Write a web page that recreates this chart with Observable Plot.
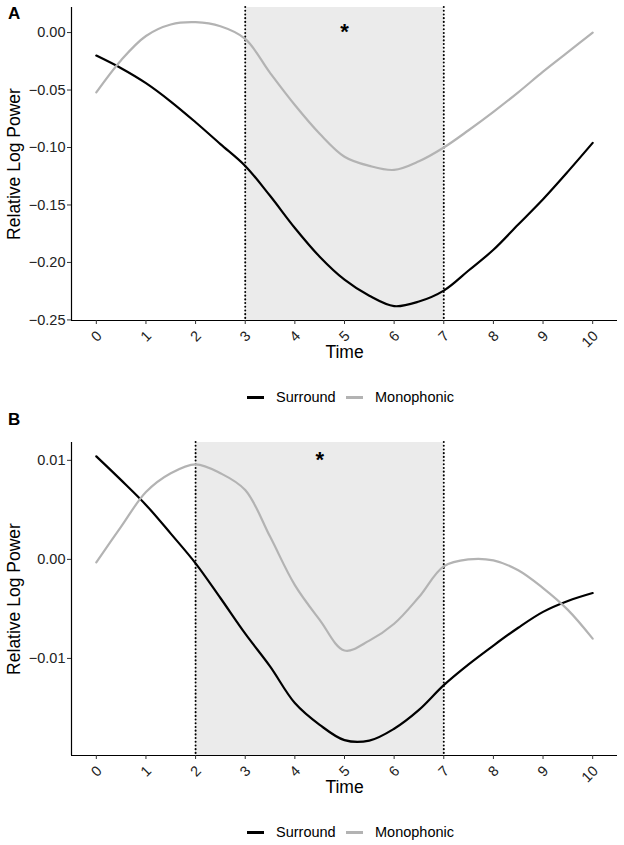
<!DOCTYPE html>
<html>
<head>
<meta charset="utf-8">
<script src="https://cdn.jsdelivr.net/npm/d3@7"></script>
<script src="https://cdn.jsdelivr.net/npm/@observablehq/plot@0.6"></script>
<style>
  body { margin: 0; background: white; }
  #root { position: relative; width: 624px; height: 845px; background: white; font-family: "Liberation Sans", Arial, sans-serif; }
  .panel { position: absolute; left: 0; }
  .plabel { position: absolute; left: 8px; font-weight: bold; font-size: 17px; color: black; line-height: 1; }
  .legend { position: absolute; left: 0; width: 624px; height: 20px; font-size: 14.5px; color: black; }
  .legend .key { position: absolute; top: 9px; height: 3px; }
  .legend .txt { position: absolute; top: 2px; line-height: 16px; white-space: nowrap; }
</style>
</head>
<body>
<div id="root"></div>
<script>
// ---- data ----
const times = [0, 0.5, 1, 1.5, 2, 2.5, 3, 3.5, 4, 4.5, 5, 5.5, 6, 6.5, 7, 7.5, 8, 8.5, 9, 9.5, 10];
const seriesNames = ["Surround", "Monophonic"];
const seriesColors = ["#000000", "#b3b3b3"];

// Panel A
const surroundA = [-0.020, -0.031, -0.044, -0.060, -0.078, -0.097, -0.116, -0.142, -0.170, -0.195, -0.215, -0.229, -0.238, -0.234, -0.2245, -0.207, -0.189, -0.167, -0.145, -0.121, -0.096];
const monoA = [-0.052, -0.024, -0.003, 0.007, 0.009, 0.0055, -0.0055, -0.035, -0.063, -0.088, -0.108, -0.116, -0.1195, -0.112, -0.100, -0.085, -0.069, -0.052, -0.034, -0.017, 0.000];
const windowA = [3, 7];
const yTicksA = [0.00, -0.05, -0.10, -0.15, -0.20, -0.25];
const yDomainA = [-0.2505, 0.0218];

// Panel B
const surroundB = [0.0104, 0.0080, 0.0055, 0.0026, -0.0004, -0.0039, -0.0075, -0.0108, -0.0145, -0.0167, -0.01825, -0.0183, -0.0171, -0.0152, -0.0127, -0.0106, -0.0087, -0.0069, -0.0053, -0.0042, -0.0034];
const monoB = [-0.0003, 0.0033, 0.0068, 0.0087, 0.0096, 0.0087, 0.0070, 0.0023, -0.0026, -0.0061, -0.0092, -0.0082, -0.0065, -0.0038, -0.0007, 0.0000, -0.0001, -0.0011, -0.0029, -0.0051, -0.0080];
const windowB = [2, 7];
const yTicksB = [0.01, 0.00, -0.01];
const yDomainB = [-0.0198, 0.0118];

const xTicks = [0, 1, 2, 3, 4, 5, 6, 7, 8, 9, 10];
const xDomain = [-0.5, 10.5];

function rows(s, m) {
  return [
    ...times.map((t, i) => ({t, v: s[i], series: seriesNames[0]})),
    ...times.map((t, i) => ({t, v: m[i], series: seriesNames[1]}))
  ];
}

function panel(data, win, yTicks, yDomain, marginTop, marginBottom, starDy) {
  const font = "Liberation Sans, Arial, sans-serif";
  return Plot.plot({
    width: 624,
    height: 380,
    marginTop,
    marginBottom,
    marginLeft: 71,
    marginRight: 7,
    style: {fontFamily: font, fontSize: "14.5px", color: "#222", background: "white"},
    x: {domain: xDomain},
    y: {domain: yDomain},
    color: {domain: seriesNames, range: seriesColors},
    marks: [
      Plot.rect([win], {x1: d => d[0], x2: d => d[1], fill: "#ebebeb"}),
      Plot.ruleX(win, {stroke: "black", strokeWidth: 2, strokeDasharray: "0.1,3.6", strokeLinecap: "round"}),
      Plot.line(data, {x: "t", y: "v", z: "series", stroke: "series", curve: "catmull-rom", strokeWidth: 2.2}),
      Plot.text(["*"], {x: (win[0] + win[1]) / 2, frameAnchor: "top", lineAnchor: "middle", dy: starDy, fontSize: 22, fontWeight: "bold", fill: "black"}),
      Plot.ruleY([yDomain[0]], {stroke: "black", strokeWidth: 1.2}),
      Plot.ruleX([xDomain[0]], {stroke: "black", strokeWidth: 1.2}),
      Plot.axisX({ticks: xTicks, tickSize: 4, tickFormat: () => "", label: null, stroke: "#333"}),
      Plot.axisX({ticks: xTicks, tickFormat: d => String(d), tickSize: 0, tickRotate: -45, tickPadding: 13, dx: 3, label: null, fontSize: 14.5, fill: "#222"}),
      Plot.axisY({ticks: yTicks, tickFormat: d3.format(".2f"), tickSize: 4, tickPadding: 2, label: null, fontSize: 14.5, stroke: "#333", fill: "#222"}),
      Plot.text(["Time"], {frameAnchor: "bottom", dy: 37, fontSize: 17.5, fill: "black"}),
      Plot.text(["Relative Log Power"], {frameAnchor: "left", textAnchor: "middle", dx: -57, rotate: -90, fontSize: 17.5, fill: "black"})
    ]
  });
}

const root = document.getElementById("root");

function addPanel(svg, top) {
  svg.classList.add("panel");
  svg.style.top = top + "px";
  root.appendChild(svg);
}

function addLabel(text, top) {
  const d = document.createElement("div");
  d.className = "plabel";
  d.style.top = top + "px";
  d.textContent = text;
  root.appendChild(d);
}

function addLegend(top) {
  const lg = document.createElement("div");
  lg.className = "legend";
  lg.style.top = top + "px";
  const keys = [[247, 17], [346, 17]];
  const txts = [276, 375];
  seriesNames.forEach((name, i) => {
    const k = document.createElement("div");
    k.className = "key";
    k.style.left = keys[i][0] + "px";
    k.style.width = keys[i][1] + "px";
    k.style.background = seriesColors[i];
    lg.appendChild(k);
    const t = document.createElement("div");
    t.className = "txt";
    t.style.left = txts[i] + "px";
    t.textContent = name;
    lg.appendChild(t);
  });
  root.appendChild(lg);
}

addPanel(panel(rows(surroundA, monoA), windowA, yTicksA, yDomainA, 7, 60, 24), 0);
addLegend(387);
addPanel(panel(rows(surroundB, monoB), windowB, yTicksB, yDomainB, 22, 45, 17), 420);
addLegend(822);
addLabel("A", 5);
addLabel("B", 411);
</script>
</body>
</html>
